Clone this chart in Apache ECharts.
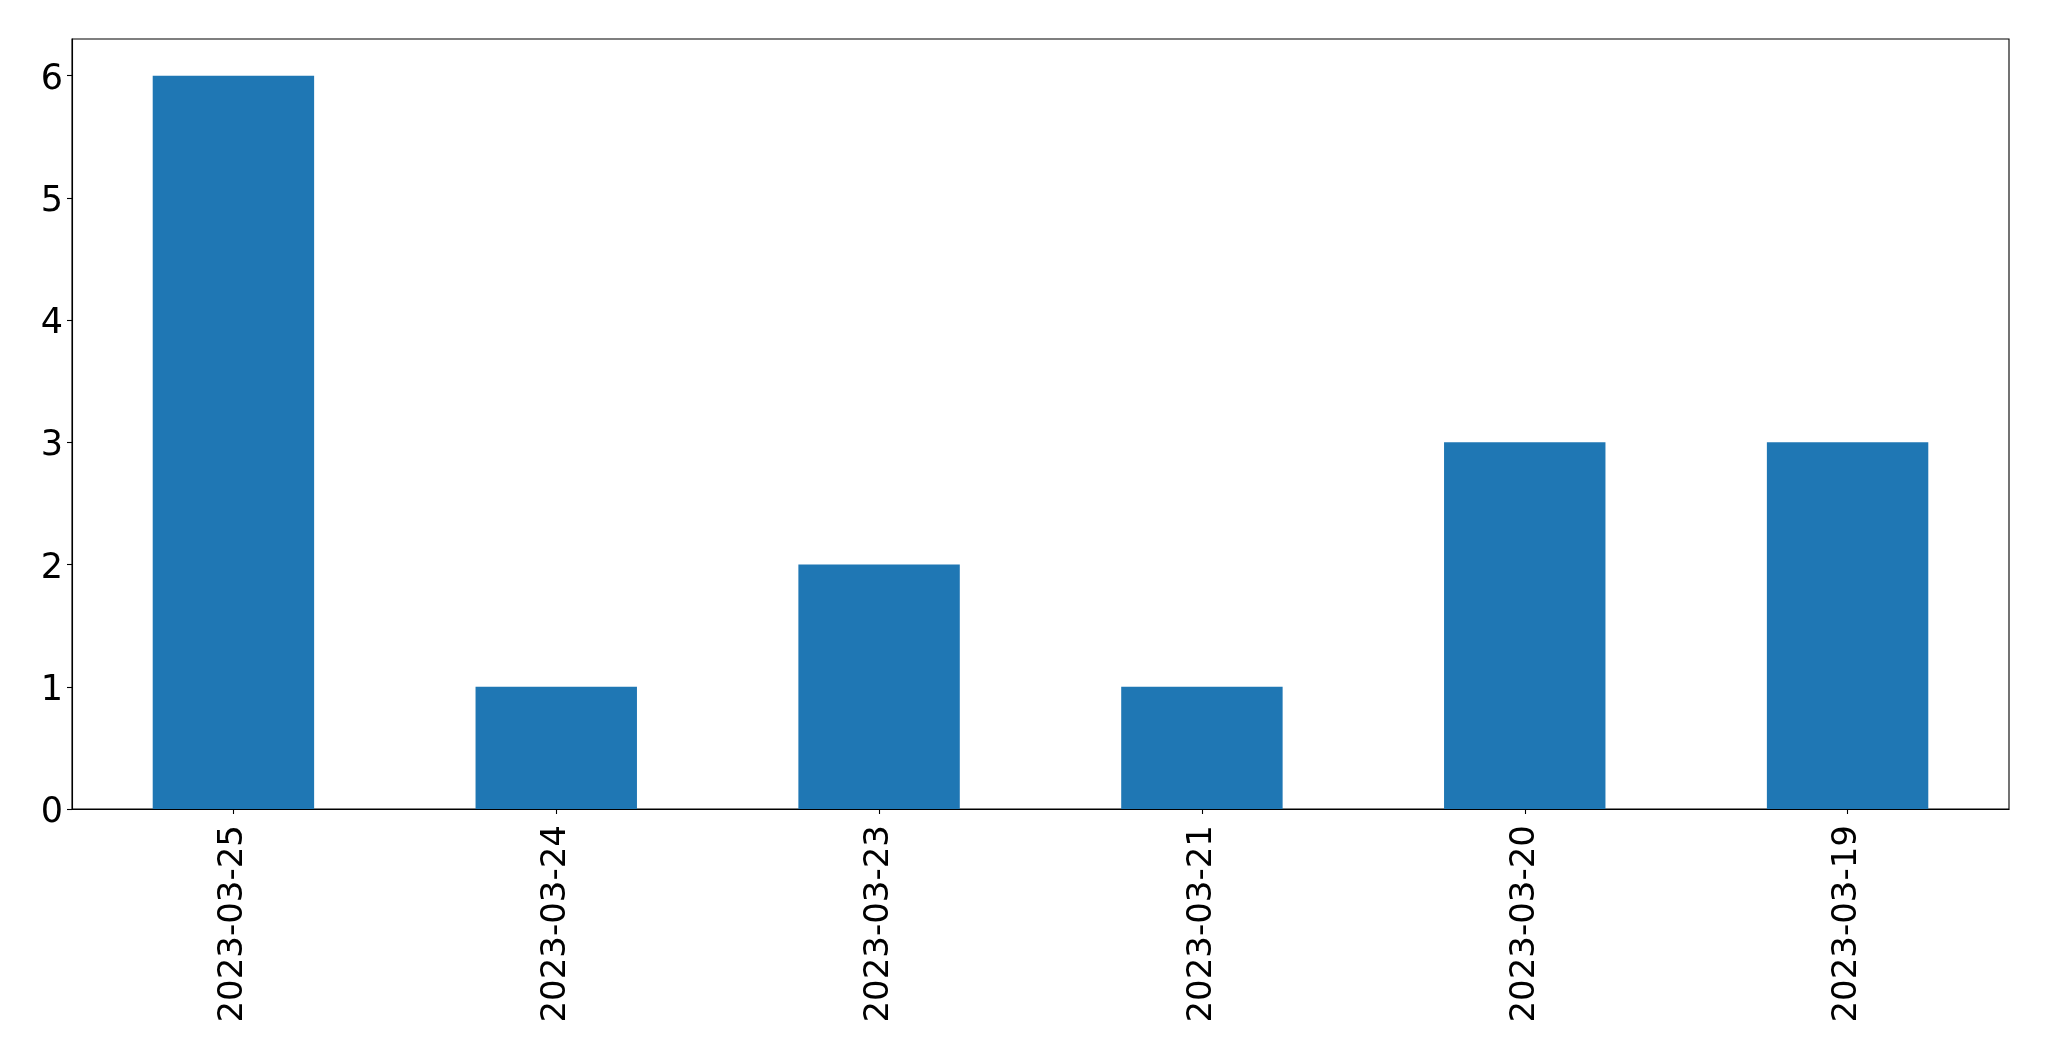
<!DOCTYPE html>
<html>
<head>
<meta charset="utf-8">
<script src="https://cdn.jsdelivr.net/npm/echarts@6/dist/echarts.min.js"></script>
<style>
html,body{margin:0;padding:0;background:#fff;}
#c{width:2049px;height:1061px;}
</style>
</head>
<body>
<div id="c"></div>
<script>
const categories = ['2023-03-25','2023-03-24','2023-03-23','2023-03-21','2023-03-20','2023-03-19'];
const counts = [6, 1, 2, 1, 3, 3];
const yTicks = [0, 1, 2, 3, 4, 5, 6];

const chart = echarts.init(document.getElementById('c'), null, {renderer: 'canvas'});
const font = 'DejaVu Sans';
chart.setOption({
  animation: false,
  backgroundColor: '#ffffff',
  grid: {
    left: 72, right: 40, top: 39, bottom: 252,
    show: true, borderColor: '#000', borderWidth: 1.1, backgroundColor: 'transparent'
  },
  xAxis: {
    type: 'category',
    data: categories,
    boundaryGap: true,
    axisLine: {show: true, lineStyle: {color: '#000', width: 1.1}},
    axisTick: {show: true, alignWithLabel: true, length: 5, lineStyle: {color: '#000', width: 1.1}},
    axisLabel: {rotate: 90, margin: 16, fontSize: 34, fontFamily: font, color: '#000', interval: 0},
    splitLine: {show: false}
  },
  yAxis: {
    type: 'value',
    min: 0, max: 6.3, interval: 1,
    axisLine: {show: true, lineStyle: {color: '#000', width: 1.1}},
    axisTick: {show: true, length: 5, customValues: yTicks, lineStyle: {color: '#000', width: 1.1}},
    axisLabel: {
      margin: 9, fontSize: 35, fontFamily: font, color: '#000', customValues: yTicks,
      formatter: '{v|{value}}',
      rich: {v: {fontSize: 35, fontFamily: font, color: '#000', padding: [8, 0, 0, 0]}}
    },
    splitLine: {show: false}
  },
  series: [{
    type: 'bar',
    data: counts,
    barWidth: '50%',
    itemStyle: {color: '#1f77b4'}
  }]
});
</script>
</body>
</html>
